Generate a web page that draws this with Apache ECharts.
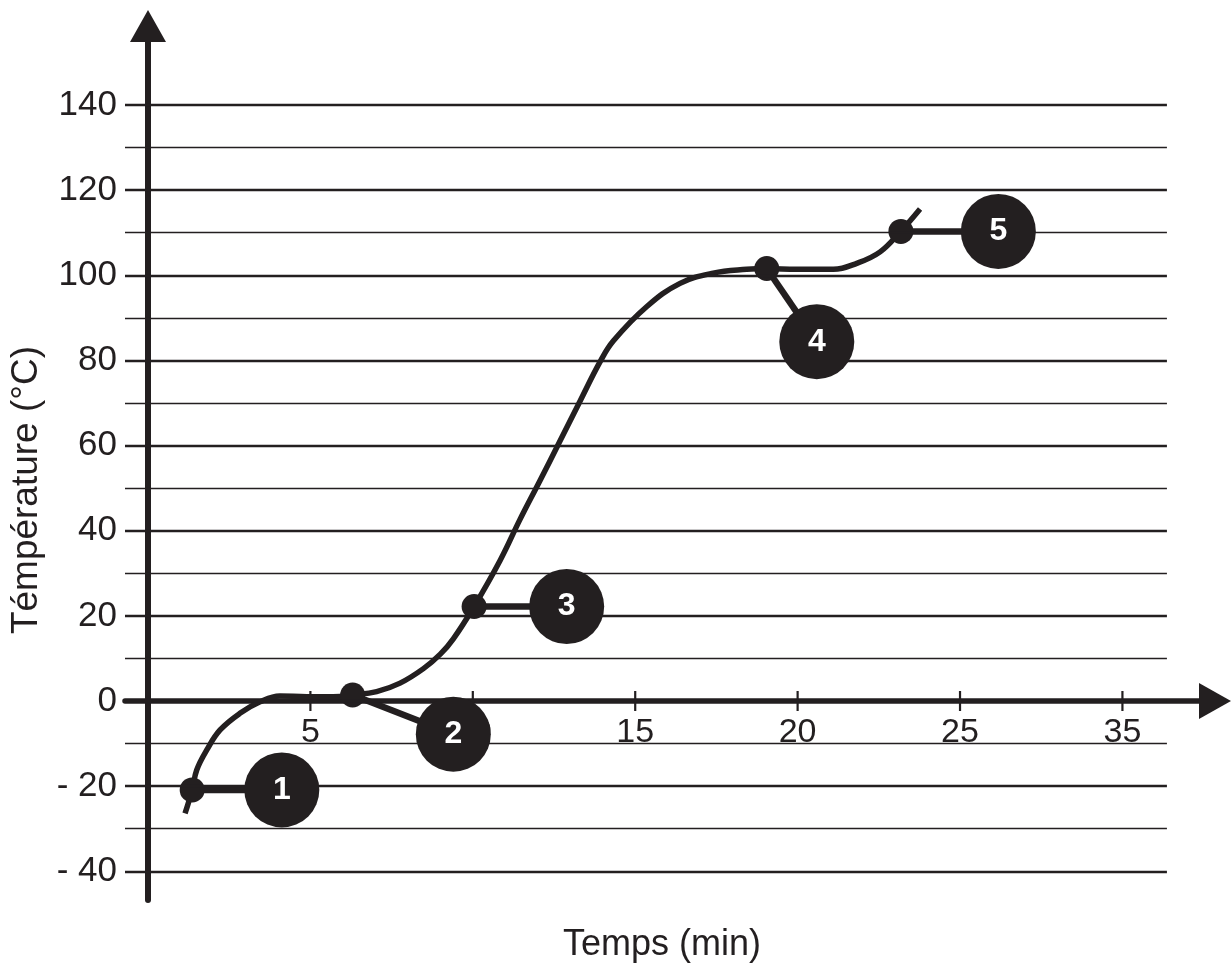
<!DOCTYPE html>
<html><head><meta charset="utf-8">
<script src="https://cdn.jsdelivr.net/npm/echarts@6/dist/echarts.min.js"></script>
<style>html,body{margin:0;padding:0;background:#fff}#c{width:1232px;height:967px}</style>
</head><body><div id="c"></div>
<script>
// Curve (time in min, temperature in °C)
const curveX = [1.14, 1.36, 1.50, 1.81, 2.22, 2.83, 3.45, 4.06, 4.89, 5.70, 6.30, 7.04, 7.76, 8.48, 9.00, 9.40, 10.04, 10.84, 11.45, 12.07, 12.68, 13.30, 13.92, 14.33, 15.35, 16.38, 17.40, 18.43, 19.05, 19.97, 21.10, 21.82, 22.54, 23.18, 23.77];
const curveY = [-26.4, -20.9, -16.2, -11.5, -6.8, -2.9, -0.2, 1.2, 1.0, 1.0, 1.4, 2.2, 4.2, 7.6, 11.0, 14.6, 22.2, 33.0, 42.6, 51.8, 61.0, 70.4, 79.7, 84.6, 92.6, 98.1, 100.5, 101.4, 101.6, 101.4, 101.4, 102.8, 105.5, 110.4, 115.6];
// Stage points on the curve and their numbered callouts
const markerX = [1.36, 6.30, 10.04, 19.05, 23.18];
const markerY = [-20.9, 1.4, 22.2, 101.6, 110.3];
const calloutX = [4.12, 9.40, 12.89, 20.59, 26.18];
const calloutY = [-20.9, -7.8, 22.2, 84.4, 110.3];
const calloutLabels = ['1', '2', '3', '4', '5'];
// Axis ticks
const xTickValues = [5, 10, 15, 20, 25, 30];
const xTickLabels = ['5', '10', '15', '20', '25', '35'];
const yTickValues = [-40, -20, 0, 20, 40, 60, 80, 100, 120, 140];
const yTickLabels = ['- 40', '- 20', '0', '20', '40', '60', '80', '100', '120', '140'];
const gridValues = [-40, -30, -20, -10, 0, 10, 20, 30, 40, 50, 60, 70, 80, 90, 100, 110, 120, 130, 140];

const INK = '#231f20';
const FONT = '"Liberation Sans", Arial, Helvetica, sans-serif';
const GX0 = -0.708, GX1 = 31.37;

const chart = echarts.init(document.getElementById('c'), null, {renderer: 'canvas'});

const series = [];
series.push({
  type: 'line', data: [], z: 1, silent: true,
  markLine: {
    silent: true, symbol: ['none', 'none'], label: {show: false}, animation: false,
    data: gridValues.map(v => [
      {coord: [GX0, v], lineStyle: {color: INK, type: 'solid', opacity: 1, width: v % 20 === 0 ? 2.4 : 1.3}},
      {coord: [GX1, v]}
    ])
  }
});
series.push({
  type: 'scatter', z: 2, silent: true, symbol: 'rect', symbolSize: [2.2, 20],
  itemStyle: {color: INK, opacity: 1},
  data: xTickValues.map(v => [v, 0])
});
series.push({
  type: 'line', z: 3, smooth: 0.4, showSymbol: false, silent: true,
  lineStyle: {color: INK, width: 5.5, cap: 'butt', join: 'round'},
  data: curveX.map((x, i) => [x, curveY[i]])
});
markerX.forEach((x, i) => {
  series.push({
    type: 'line', z: 3, showSymbol: false, silent: true,
    lineStyle: {color: INK, width: 6.5},
    data: [[x, markerY[i]], [calloutX[i], calloutY[i]]]
  });
});
series.push({
  type: 'scatter', z: 4, silent: true, symbolSize: 25,
  itemStyle: {color: INK, opacity: 1},
  data: markerX.map((x, i) => [x, markerY[i]])
});
series.push({
  type: 'scatter', z: 5, silent: true, symbolSize: 75,
  itemStyle: {color: INK, opacity: 1},
  label: {
    show: true, position: 'inside', color: '#fff', fontWeight: 'bold', fontSize: 32, fontFamily: FONT,
    formatter: p => calloutLabels[p.dataIndex]
  },
  data: calloutX.map((x, i) => [x, calloutY[i]])
});

chart.setOption({
  animation: false,
  backgroundColor: '#fff',
  grid: {left: 125, right: 17, top: 26, bottom: 67, containLabel: false, outerBoundsMode: 'none'},
  xAxis: {
    type: 'value', min: GX0, max: 32.85,
    axisLine: {onZero: true, lineStyle: {color: INK, width: 5.5}, symbol: ['none', 'triangle'], symbolSize: [36, 32]},
    axisTick: {show: false},
    splitLine: {show: false},
    axisLabel: {
      customValues: xTickValues, color: INK, fontSize: 34, fontFamily: FONT, margin: -184,
      formatter: v => xTickLabels[xTickValues.indexOf(v)]
    },
    name: 'Temps (min)', nameLocation: 'middle', nameGap: 27,
    nameTextStyle: {color: INK, fontSize: 36, fontFamily: FONT, padding: [0, 16, 0, 0]}
  },
  yAxis: {
    type: 'value', min: -46.75, max: 158.56,
    axisLine: {onZero: true, lineStyle: {color: INK, width: 6}, symbol: ['none', 'triangle'], symbolSize: [36, 32]},
    axisTick: {show: false},
    splitLine: {show: false},
    axisLabel: {
      customValues: yTickValues, color: INK, fontSize: 35, fontFamily: FONT, margin: 8,
      formatter: v => yTickLabels[yTickValues.indexOf(v)]
    },
    name: 'Témpérature (°C)', nameLocation: 'middle', nameGap: 77, nameRotate: 90,
    nameTextStyle: {color: INK, fontSize: 37, fontFamily: FONT, padding: [0, 54, 0, 0]}
  },
  series: series
});
</script>
</body></html>
